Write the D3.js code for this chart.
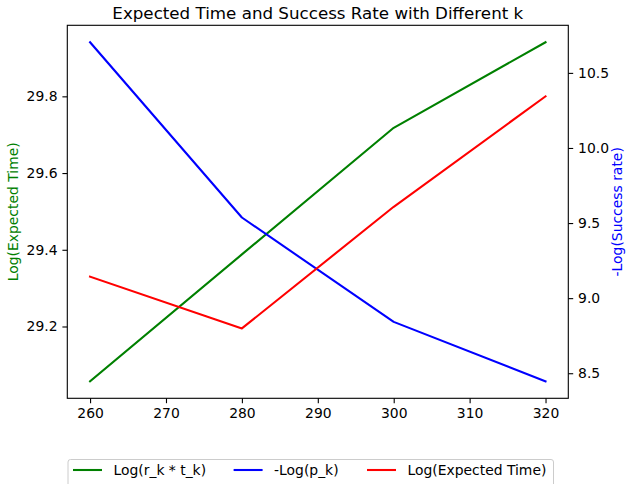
<!DOCTYPE html>
<html>
<head>
<meta charset="utf-8">
<script src="https://cdn.jsdelivr.net/npm/d3@7"></script>
<style>
  html, body { margin: 0; padding: 0; background: #fff; }
  svg { display: block; }
  text { font-family: "DejaVu Sans", sans-serif; }
</style>
</head>
<body>
<svg id="chart" width="626" height="484"></svg>
<script>
// k values on the x axis
const kValues = [260, 280, 300, 320];
// left axis series
const logRkTk = [29.057, 29.388, 29.718, 29.941];
const logExpectedTime = [29.330, 29.195, 29.512, 29.800];
// right axis series
const negLogPk = [10.704, 9.537, 8.842, 8.446];

const xTicks = [260, 270, 280, 290, 300, 310, 320];
const leftTicks = [29.2, 29.4, 29.6, 29.8];
const rightTicks = [8.5, 9.0, 9.5, 10.0, 10.5];

const svg = d3.select("#chart");
const plot = { left: 67.3, right: 568.3, top: 25.3, bottom: 398.3 };

// 5% padding around the data extent
function padded(values) {
  const [lo, hi] = d3.extent(values);
  const m = (hi - lo) * 0.05;
  return [lo - m, hi + m];
}

const x = d3.scaleLinear().domain(padded(kValues)).range([plot.left, plot.right]);
const yL = d3.scaleLinear().domain(padded(logRkTk.concat(logExpectedTime))).range([plot.bottom, plot.top]);
const yR = d3.scaleLinear().domain(padded(negLogPk)).range([plot.bottom, plot.top]);

const fontSize = 13.9;

// axes
function styleAxis(g) {
  g.selectAll("path").remove();
  g.selectAll(".tick line").attr("stroke", "#000").attr("stroke-width", 1.1);
  g.selectAll(".tick text")
    .attr("fill", "#000")
    .style("font-size", fontSize + "px")
    .style("font-family", "DejaVu Sans, sans-serif");
}

svg.append("g")
  .attr("transform", `translate(0,${plot.bottom})`)
  .call(d3.axisBottom(x).tickValues(xTicks).tickFormat(d3.format("d")).tickSizeInner(4.9).tickSizeOuter(0).tickPadding(4.9))
  .call(styleAxis);

svg.append("g")
  .attr("transform", `translate(${plot.left},0)`)
  .call(d3.axisLeft(yL).tickValues(leftTicks).tickFormat(d3.format(".1f")).tickSizeInner(4.9).tickSizeOuter(0).tickPadding(4.9))
  .call(styleAxis);

svg.append("g")
  .attr("transform", `translate(${plot.right},0)`)
  .call(d3.axisRight(yR).tickValues(rightTicks).tickFormat(d3.format(".1f")).tickSizeInner(4.9).tickSizeOuter(0).tickPadding(4.9))
  .call(styleAxis);

// series lines
const series = [
  { name: "Log(r_k * t_k)", values: logRkTk, y: yL, color: "#008000" },
  { name: "-Log(p_k)", values: negLogPk, y: yR, color: "#0000ff" },
  { name: "Log(Expected Time)", values: logExpectedTime, y: yL, color: "#ff0000" }
];

series.forEach(s => {
  const line = d3.line().x((d, i) => x(kValues[i])).y(d => s.y(d));
  svg.append("path")
    .datum(s.values)
    .attr("fill", "none")
    .attr("stroke", s.color)
    .attr("stroke-width", 2.08)
    .attr("stroke-linejoin", "round")
    .attr("stroke-linecap", "square")
    .attr("d", line);
});

// frame
svg.append("rect")
  .attr("x", plot.left).attr("y", plot.top)
  .attr("width", plot.right - plot.left).attr("height", plot.bottom - plot.top)
  .attr("fill", "none").attr("stroke", "#000").attr("stroke-width", 1.1);

// title
svg.append("text")
  .attr("x", (plot.left + plot.right) / 2).attr("y", 18.5)
  .attr("text-anchor", "middle")
  .style("font-size", "16.7px")
  .text("Expected Time and Success Rate with Different k");

// axis labels
const midY = (plot.top + plot.bottom) / 2;
svg.append("text")
  .attr("transform", `translate(18,${midY}) rotate(-90)`)
  .attr("text-anchor", "middle")
  .attr("fill", "#008000")
  .style("font-size", fontSize + "px")
  .text("Log(Expected Time)");

svg.append("text")
  .attr("transform", `translate(622,${midY}) rotate(-90)`)
  .attr("text-anchor", "middle")
  .attr("fill", "#0000ff")
  .style("font-size", fontSize + "px")
  .text("-Log(Success rate)");

// legend
const legend = svg.append("g");
legend.append("rect")
  .attr("x", 68).attr("y", 459.5).attr("width", 485.5).attr("height", 28)
  .attr("rx", 2.5)
  .attr("fill", "#fff").attr("stroke", "#cccccc").attr("stroke-width", 1);

const legendX = [73, 233.6, 367];
series.forEach((s, i) => {
  const lx = legendX[i];
  legend.append("line")
    .attr("x1", lx).attr("x2", lx + 29).attr("y1", 470).attr("y2", 470)
    .attr("stroke", s.color).attr("stroke-width", 2.08);
  legend.append("text")
    .attr("x", lx + 40.5).attr("y", 470)
    .attr("dy", "0.35em")
    .style("font-size", fontSize + "px")
    .text(s.name);
});
</script>
</body>
</html>
